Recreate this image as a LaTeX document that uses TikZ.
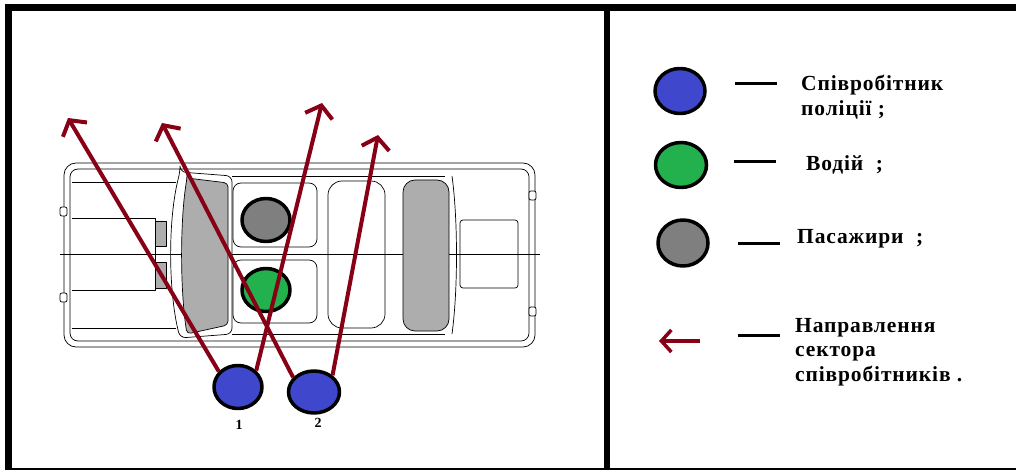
\documentclass[tikz,border=0pt]{standalone}
\usepackage{fontspec}
\setmainfont{Liberation Serif}
\newfontfamily\legfont[LetterSpace=4]{Liberation Serif}
\usetikzlibrary{arrows.meta,shapes.geometric}
\definecolor{policeblue}{HTML}{3F48CC}
\definecolor{drivergreen}{HTML}{22B14C}
\definecolor{passgray}{HTML}{7F7F7F}
\definecolor{sectorred}{HTML}{880015}
\begin{document}
\begin{tikzpicture}[x=1pt,y=-1pt,line join=round,
person/.style={draw,ellipse,line width=3.5pt,inner sep=0pt,minimum width=48pt,minimum height=43pt},
carline/.style={line width=0.7pt},
glass/.style={carline,fill=black!32},
sector/.style={draw=sectorred,line width=4pt,-{Straight Barb[length=11pt,width=28pt]}},
legdash/.style={line width=3pt},
legtext/.style={anchor=north west,inner sep=0pt,align=left,font=\legfont\bfseries\fontsize{21.5}{24.5}\selectfont},
numlabel/.style={inner sep=0pt,font=\bfseries\fontsize{14}{14}\selectfont}]
\useasboundingbox (0,0) rectangle (1016,470);
% frame
\draw[line width=6.5pt] (5,7.7) -- (1016,7.7);
\draw[line width=7pt] (8.5,4.5) -- (8.5,470);
\draw[line width=6pt] (606.5,8) -- (606.5,470);
\draw[line width=1.5pt] (5,469) -- (1016,469);
% car
\draw[carline,rounded corners=12pt] (64,163) rectangle (535,347);
\draw[carline,rounded corners=8pt] (70,169) rectangle (529,341);
\draw[carline] (72,182) -- (176,182) (72,328) -- (176,328);
\draw[carline] (72,218) -- (155,218) -- (155,290) -- (72,290);
\draw[glass] (155,221) rectangle (166,246) (155,262) rectangle (166,288);
\draw[carline] (60,254) -- (540,254);
\draw[carline,rounded corners=6pt] (180,172) -- (232,176) -- (232,334) -- (180,338) .. controls (168,290) and (168,218) .. cycle;
\draw[glass,rounded corners=4pt] (187,178) -- (228,183) -- (228,325) -- (187,334) .. controls (180,290) and (180,220) .. cycle;
\draw[carline] (232,176) -- (445,176) (232,334) -- (445,334);
\draw[carline,rounded corners=8pt] (233,183) rectangle (317,247);
\draw[carline,rounded corners=8pt] (233,260) rectangle (317,323);
\draw[carline,rounded corners=14pt] (328,181) rectangle (385,328);
\draw[glass,rounded corners=12pt] (403,180) rectangle (449,331);
\draw[carline] (452,176) .. controls (458,220) and (458,290) .. (452,334);
\draw[carline,rounded corners=3pt] (460,220) rectangle (518,288);
\draw[carline,fill=white,rounded corners=2pt] (60,207) rectangle (67,216) (60,293) rectangle (67,302)
  (529,191) rectangle (536,200) (529,307) rectangle (536,316);
% people in the car
\node[person,fill=passgray] (pass) at (266,220) {};
\node[person,fill=drivergreen] (drv) at (266,290) {};
% sector arrows
\coordinate (tipA) at (68,118);
\coordinate (tipB) at (322,103);
\coordinate (tipC) at (162,123);
\coordinate (tipD) at (378,135);
\node[person,fill=policeblue] (off1) at (238,387) {};
\node[person,fill=policeblue,minimum width=51pt,minimum height=42pt] (off2) at (314,392) {};
\draw[sector] (off1.141) -- (tipA);
\draw[sector] (off1.42) -- (tipB);
\draw[sector] (off2.145) -- (tipC);
\draw[sector] (off2.42) -- (tipD);
\node[numlabel] (n1) at (239,425) {1};
\node[numlabel] (n2) at (318,423) {2};
% legend
\node[person,fill=policeblue,minimum width=50pt,minimum height=45pt] (legPol) at (680,91) {};
\node[person,fill=drivergreen,minimum width=51pt,minimum height=45pt] (legDrv) at (681,165) {};
\node[person,fill=passgray,minimum width=50pt,minimum height=46pt] (legPass) at (683,243) {};
\coordinate (legArrS) at (700,341);
\coordinate (legArrE) at (659,341);
\draw[sector,line width=3.5pt,-{Straight Barb[length=10pt,width=22pt]}] (legArrS) -- (legArrE);
\draw[legdash] (735,84) -- (777,84) (734,162) -- (776,162) (738,243) -- (780,243) (738,335) -- (780,335);
\node[legtext] (tPol) at (801,75) {Співробітник\\поліції ;};
\node[legtext] (tDrv) at (806,155) {Водій\ \ ;};
\node[legtext] (tPass) at (797,229) {Пасажири\ \ ;};
\node[legtext] (tSect) at (795,318) {Направлення\\сектора\\співробітників .};
\end{tikzpicture}
\end{document}
